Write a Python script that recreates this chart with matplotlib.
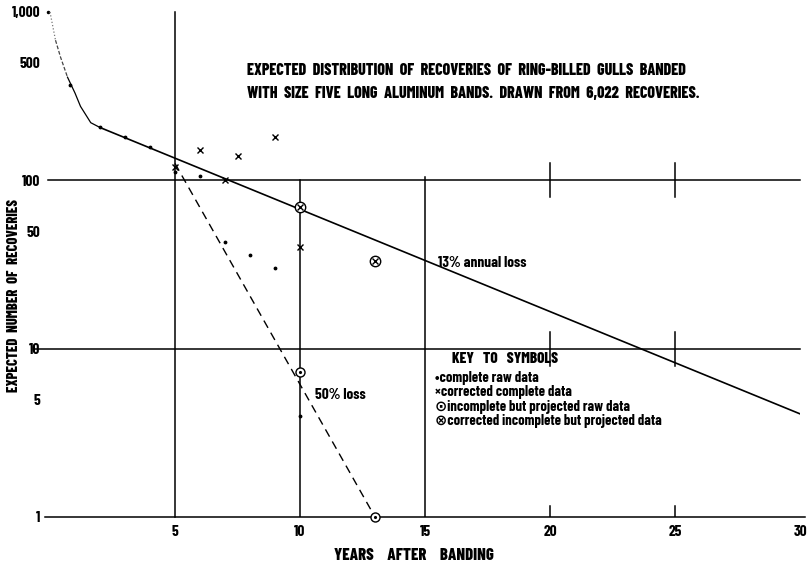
import numpy as np
import matplotlib.pyplot as plt

plt.rcParams['font.family'] = ['Barlow Condensed', 'DejaVu Sans']
plt.rcParams['font.weight'] = 'bold'

## -------------------- data ------------------- ##
# early-years curve (first two years after banding)
curve_x = [0.0, 0.22, 0.42, 0.7, 1.0, 1.22, 1.63, 2.0]
curve_y = [1000, 680, 540, 410, 330, 275, 220, 206]

# 13% annual loss line and 50% loss line (end points)
loss13_x = [2, 30]
loss13_y = [206, 4.1]
loss50_x = [5, 13]
loss50_y = [126, 1]

# complete raw data
raw_x = [0.8, 2, 3, 4, 5, 6, 7, 8, 9, 10]
raw_y = [370, 206, 180, 157, 112, 106, 43, 36, 30, 4.0]

# corrected complete data
corr_x = [5, 6, 7, 7.5, 9, 10]
corr_y = [120, 151, 100, 139, 180, 40]

# incomplete but projected raw data
proj_x = [10, 13]
proj_y = [7.3, 1]

# corrected incomplete but projected data
corr_proj_x = [10, 13]
corr_proj_y = [69, 33]

yticks = [1, 5, 10, 50, 100, 500, 1000]
ytick_labels = ['1', '5', '10', '50', '100', '500', '1,000']
xticks = [5, 10, 15, 20, 25, 30]

fig = plt.figure(figsize=(8.1, 5.65), dpi=100)
ax = fig.add_axes([50 / 810, 48 / 565, 750 / 810, 505 / 565])
ax.set_yscale('log')
ax.set_xlim(0, 30)
ax.set_ylim(1, 1000)
for s in ax.spines.values():
    s.set_visible(False)

lw = 1.1
# frame lines
ax.plot([-0.2, 30.2], [1, 1], color='black', lw=lw, clip_on=False)
ax.plot([-0.1, 30], [100, 100], color='black', lw=lw, clip_on=False)
ax.plot([-0.6, 30], [10, 10], color='black', lw=lw, clip_on=False)
ax.plot([5, 5], [1, 1000], color='black', lw=lw, clip_on=False)
ax.plot([10, 10], [1, 100], color='black', lw=lw)
ax.plot([15, 15], [1, 104], color='black', lw=lw)
for xv in [20, 25]:
    for yv in [10, 100]:
        ax.plot([xv, xv], [yv / 1.26, yv * 1.26], color='black', lw=lw)
    ax.plot([xv, xv], [1, 1.16], color='black', lw=lw)
ax.plot([-0.1], [1000], 'k.', ms=3, clip_on=False)

# curves
ax.plot(curve_x[:2], curve_y[:2], color='#777777', lw=0.9, ls=':', clip_on=False)
ax.plot(curve_x[1:4], curve_y[1:4], color='#444444', lw=0.9, ls=(0, (3, 1.5)))
ax.plot(curve_x[3:], curve_y[3:], color='black', lw=0.9)
ax.plot(loss13_x, loss13_y, color='black', lw=1.2)
ax.plot(loss50_x, loss50_y, color='black', lw=1.0, ls=(0, (6, 4)))

# symbols
ax.plot(raw_x, raw_y, 'k.', ms=3.5, ls='none')
ax.plot(corr_x, corr_y, 'kx', ms=4.5, mew=1.0, ls='none')
ax.plot(proj_x, proj_y, 'o', mfc='white', mec='black', ms=6.5, mew=1.0, ls='none', clip_on=False)
ax.plot(proj_x, proj_y, 'k.', ms=2.5, ls='none', clip_on=False)
ax.plot(corr_proj_x, corr_proj_y, 'o', mfc='white', mec='black', ms=7.5, mew=1.0, ls='none')
ax.plot(corr_proj_x, corr_proj_y, 'kx', ms=4, mew=1.0, ls='none')

# ticks
ax.set_yticks(yticks)
ax.set_yticklabels(ytick_labels)
ax.yaxis.set_minor_locator(plt.NullLocator())
ax.set_xticks(xticks)
ax.set_xticklabels([str(v) for v in xticks])
ax.tick_params(axis='y', length=0, labelsize=11, pad=7)
ax.tick_params(axis='x', length=0, labelsize=11, pad=6)

fig.text(414 / 810, 1 - 556 / 565, 'YEARS    AFTER    BANDING', ha='center', va='center',
         fontsize=12, fontweight=800)
fig.text(14 / 810, 1 - 296 / 565, 'EXPECTED  NUMBER  OF  RECOVERIES',
         rotation=90, ha='center', va='center', fontsize=10.5, fontweight=800)

# title block
title = ('EXPECTED  DISTRIBUTION  OF  RECOVERIES  OF  RING-BILLED  GULLS  BANDED\n'
         'WITH  SIZE  FIVE  LONG  ALUMINUM  BANDS.  DRAWN  FROM  6,022  RECOVERIES.')
fig.text(247 / 810, 1 - 82 / 565, title, ha='left', va='center', fontsize=11.5,
         fontweight=800, linespacing=1.6)

ax.text(15.5, 10 ** ((517 - 263) / 168.5), '13% annual loss', ha='left', va='center', fontsize=11)
ax.text(10.6, 10 ** ((517 - 395) / 168.5), '50% loss', ha='left', va='center', fontsize=11)

# key to symbols
fig.text(452 / 810, 1 - 359 / 565, 'KEY   TO   SYMBOLS', ha='left', va='center',
         fontsize=11, fontweight=800)
key_lines = ['\u2022complete raw data', '\u00d7corrected complete data',
             '\u2299incomplete but projected raw data',
             '\u2297corrected incomplete but projected data']
for i, t in enumerate(key_lines):
    fig.text(435 / 810, 1 - (378 + 14.3 * i) / 565, t, ha='left', va='center', fontsize=10.5)

fig.savefig('out.png', dpi=100, facecolor='white')
